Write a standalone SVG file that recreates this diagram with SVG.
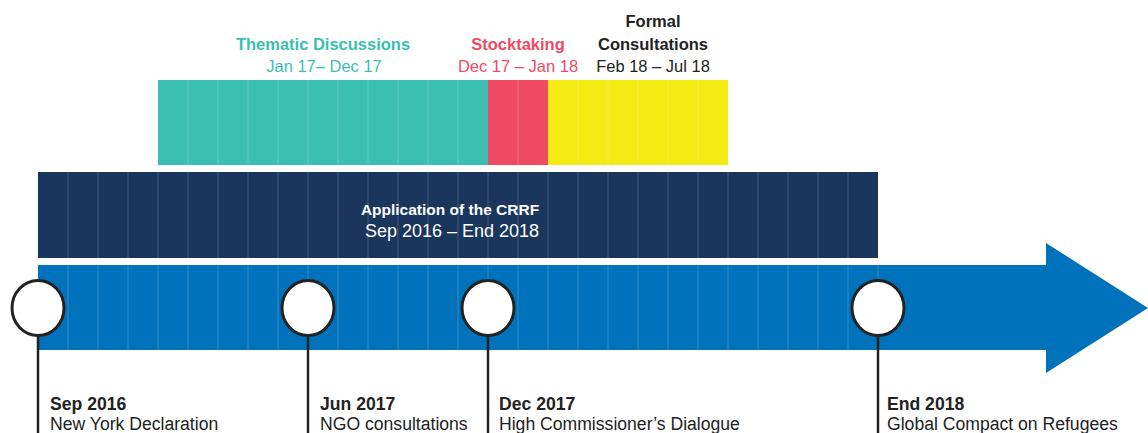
<svg xmlns="http://www.w3.org/2000/svg" width="1148" height="433" viewBox="0 0 1148 433">
<style>
text{font-family:"Liberation Sans",Arial,sans-serif;font-size:16.5px}
.b{font-weight:bold}
.grid{stroke:#ffffff;stroke-opacity:0.18;stroke-width:1;fill:none}
.pin{fill:#ffffff;stroke:#222222;stroke-width:3}
.stem{stroke:#222222;stroke-width:2.5}
.lbl{fill:#222222}
.c{text-anchor:middle}
.m{font-size:17.6px}
</style>
<rect width="1148" height="433" fill="#ffffff"/>
<g id="phases">
<rect x="158" y="80" width="330" height="85" fill="#3bbfb0"/>
<rect x="488" y="80" width="60" height="85" fill="#ef4a64"/>
<rect x="548" y="80" width="180" height="85" fill="#f4ea14"/>
<path class="grid" d="M188 80V165M218 80V165M248 80V165M278 80V165M308 80V165M338 80V165M368 80V165M398 80V165M428 80V165M458 80V165M518 80V165M578 80V165M608 80V165M638 80V165M668 80V165M698 80V165"/>
</g>
<g id="thematic">
<text class="b c" x="323" y="50" fill="#3bbfb0">Thematic Discussions</text>
<text class="c" x="324" y="72" fill="#3bbfb0">Jan 17– Dec 17</text>
</g>
<g id="stocktaking">
<text class="b c" x="518" y="50" fill="#ef4a64">Stocktaking</text>
<text class="c" x="518" y="72" fill="#ef4a64">Dec 17 – Jan 18</text>
</g>
<g id="formal">
<text class="b c lbl" x="653" y="27">Formal</text>
<text class="b c lbl" x="653" y="50">Consultations</text>
<text class="c lbl" x="653" y="72">Feb 18 – Jul 18</text>
</g>
<g id="crrf">
<rect x="38" y="172" width="840" height="86" fill="#1a365d"/>
<path class="grid" d="M68 172V258M98 172V258M128 172V258M158 172V258M188 172V258M218 172V258M248 172V258M278 172V258M308 172V258M338 172V258M368 172V258M398 172V258M428 172V258M458 172V258M488 172V258M518 172V258M548 172V258M578 172V258M608 172V258M638 172V258M668 172V258M698 172V258M728 172V258M758 172V258M788 172V258M818 172V258M848 172V258"/>
<text class="b c" x="450" y="215" fill="#ffffff" style="font-size:15.5px">Application of the CRRF</text>
<text class="c" x="452" y="237" fill="#ffffff" style="font-size:18px">Sep 2016 – End 2018</text>
</g>
<g id="timeline">
<polygon points="38,265 1046,265 1046,243 1148,308 1046,373 1046,350 38,350" fill="#0072bb"/>
<path class="grid" d="M68 265V350M98 265V350M128 265V350M158 265V350M188 265V350M218 265V350M248 265V350M278 265V350M308 265V350M338 265V350M368 265V350M398 265V350M428 265V350M458 265V350M488 265V350M518 265V350M548 265V350M578 265V350M608 265V350M638 265V350M668 265V350M698 265V350M728 265V350M758 265V350M788 265V350M818 265V350M848 265V350M878 265V350"/>
</g>
<g id="connectors">
<line class="stem" x1="38" y1="336" x2="38" y2="433"/>
<line class="stem" x1="308" y1="336" x2="308" y2="433"/>
<line class="stem" x1="488" y1="336" x2="488" y2="433"/>
<line class="stem" x1="878" y1="336" x2="878" y2="433"/>
</g>
<g id="m-sep2016">
<ellipse class="pin" cx="38" cy="308" rx="26" ry="27.5"/>
<text class="b lbl m" x="50" y="410">Sep 2016</text>
<text class="lbl m" x="50" y="430">New York Declaration</text>
</g>
<g id="m-jun2017">
<ellipse class="pin" cx="308" cy="308" rx="26" ry="27.5"/>
<text class="b lbl m" x="320" y="410">Jun 2017</text>
<text class="lbl m" x="320" y="430">NGO consultations</text>
</g>
<g id="m-dec2017">
<ellipse class="pin" cx="488" cy="308" rx="26" ry="27.5"/>
<text class="b lbl m" x="499" y="410">Dec 2017</text>
<text class="lbl m" x="499" y="430">High Commissioner’s Dialogue</text>
</g>
<g id="m-end2018">
<ellipse class="pin" cx="878" cy="308" rx="26" ry="27.5"/>
<text class="b lbl m" x="887" y="410">End 2018</text>
<text class="lbl m" x="887" y="430">Global Compact on Refugees</text>
</g>
</svg>
